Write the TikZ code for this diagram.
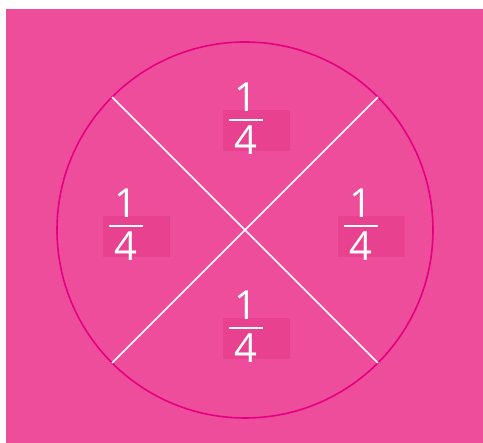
\documentclass[tikz,border=0pt]{standalone}
\usepackage{fontspec}
\setmainfont{Open Sans}
\usetikzlibrary{positioning}
\definecolor{PieBack}{HTML}{EE4D9B}
\definecolor{PieRim}{HTML}{E4007F}
\definecolor{PieShade}{HTML}{E8418F}

\begin{document}
\begin{tikzpicture}[x=1pt,y=-1pt,
    digit/.style={text=white,inner sep=0pt,font=\fontsize{40}{40}\selectfont},
    cutline/.style={white,line width=1.6pt},
    fracbar/.style={white,line width=1.8pt}]
        \useasboundingbox (0,0) rectangle (483,443);
        \fill[PieBack] (6,9) rectangle (483,443);

        % the whole, cut in four
        \node[circle,draw=PieRim,line width=1.6pt,minimum size=376pt,
          inner sep=0pt,outer sep=0pt] (pie) at (245,230) {};
        \draw[cutline] (pie.135) -- (pie.-45);
        \draw[cutline] (pie.45) -- (pie.-135);

        % one quarter in each part
        \foreach \name/\cx/\cy in {top/246/120,left/126/226,right/361/226,bottom/246/328}{
          \fill[PieShade] (\cx-23,\cy-10) rectangle (\cx+44,\cy+31);
          \coordinate (\name) at (\cx,\cy);
          \node[digit,above=8pt of \name] (\name-num) {1};
          \node[digit,below=6pt of \name] (\name-den) {4};
          \draw[fracbar] ([xshift=-17pt]\name) -- ([xshift=17pt]\name);
        }
      \end{tikzpicture}
\end{document}
